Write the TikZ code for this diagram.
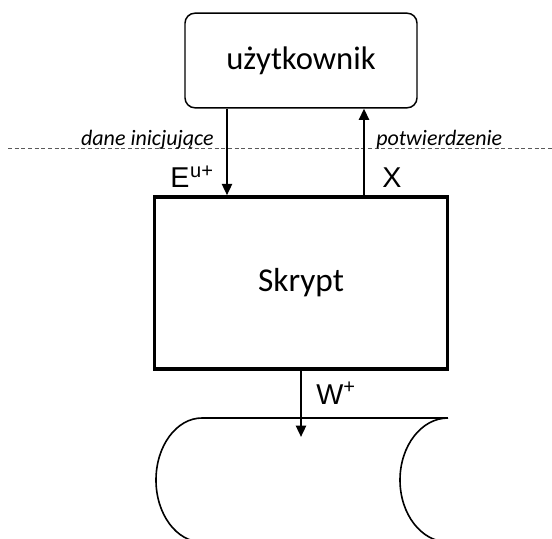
\documentclass[tikz,border=0pt]{standalone}
\usepackage{fontspec}
\setmainfont{Carlito}
\newfontfamily\arialfont{Liberation Sans}
\usetikzlibrary{arrows.meta}

\tikzset{
	box/.style={draw, line width=1.1pt, rounded corners=7.5pt, minimum width=174pt, minimum height=71pt, font=\fontsize{24.5}{28}\selectfont},
	script/.style={draw, line width=2.6pt, minimum width=220pt, minimum height=129pt, font=\fontsize{25}{28}\selectfont},
	flow/.style={line width=1.7pt, -{Triangle[length=8.5pt, width=7.5pt]}},
	lbl/.style={font=\arialfont\fontsize{21.5}{25}\selectfont, inner sep=0pt},
	note/.style={font=\fontsize{16.5}{19}\selectfont\itshape, inner sep=0pt}
}

\begin{document}
\begin{tikzpicture}[x=0.75pt, y=-0.75pt]
	\useasboundingbox (0,0) rectangle (552,538);
	\node[name=user, box] at (301,60.5) {użytkownik};
	\node[name=skrypt, script] at (301,283) {Skrypt};
	\draw[densely dashed, gray!70!black, line width=0.75pt] (8,149) -- (552,149);
	\coordinate (in) at (227,0);
	\coordinate (out) at (364,0);
	\coordinate (save) at (301,437);
	\draw[flow] (in |- user.south) -- (in |- skrypt.north);
	\draw[flow] (out |- skrypt.north) -- (out |- user.south);
	\draw[flow] (skrypt.south -| save) -- (save);
	\node[note, anchor=base east] at (214,146) {dane inicjujące};
	\node[note, anchor=base west] at (376,146) {potwierdzenie};
	\node[lbl, anchor=base east] at (214,188) {E\textsuperscript{\kern0.5pt u+}};
	\node[lbl, anchor=base] at (392,188) {X};
	\node[lbl, anchor=base west] at (316,404) {W\textsuperscript{+}};
	% nośnik danych
	\draw[line width=1.2pt] (202,418) -- (448,418);
	\draw[line width=1.2pt] (202,418) arc[start angle=-90, end angle=-270, x radius=46, y radius=62];
	\draw[line width=1.2pt] (448,418) arc[start angle=-90, end angle=-270, x radius=48, y radius=62];
\end{tikzpicture}
\end{document}
